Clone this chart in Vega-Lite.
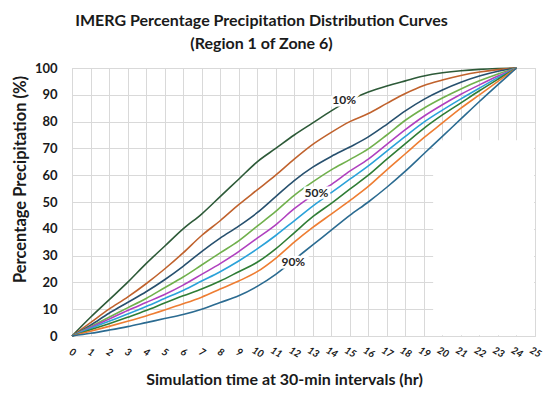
{
  "$schema": "https://vega.github.io/schema/vega-lite/v6.json",
  "autosize": "none",
  "width": 463,
  "height": 268,
  "padding": {"left": 72, "top": 68, "right": 15, "bottom": 61},
  "config": {
    "font": "Lato",
    "view": {"stroke": "#d9d9d9", "strokeWidth": 1},
    "axis": {"gridColor": "#d9d9d9", "gridWidth": 1, "domainColor": "#d9d9d9", "ticks": false, "grid": true, "labelOverlap": false, "labelFlush": false},
    "axisX": {
      "tickCount": 25,
      "titleFontSize": 16, "titleFontWeight": "bold", "titleColor": "#1a1a1a",
      "titleX": 212, "titleY": 35, "titleBaseline": "top", "titleAnchor": "middle", "titleAlign": "center",
      "labelAngle": 30, "labelAlign": "center", "labelBaseline": "middle", "labelPadding": 16,
      "labelFontSize": 10, "labelFontStyle": "italic", "labelFontWeight": "bold", "labelColor": "#1a1a1a"
    },
    "axisY": {
      "tickCount": 10,
      "titleFontSize": 16.5, "titleFontWeight": "bold", "titleColor": "#1a1a1a",
      "titleX": -47, "titleY": 111, "titleBaseline": "alphabetic", "titleAlign": "center", "titleAngle": -90,
      "labelFontSize": 13, "labelFontWeight": "bold", "labelColor": "#1a1a1a", "labelPadding": 15
    }
  },
  "title": {
    "text": ["IMERG Percentage Precipitation Distribution Curves", "(Region 1 of Zone 6)"],
    "fontSize": 16,
    "fontWeight": "bold",
    "color": "#1a1a1a",
    "lineHeight": 23,
    "anchor": "middle",
    "dx": -42,
    "offset": 10
  },
  "datasets": {
    "curves": [
      {"t": 0, "p10": 0, "p20": 0, "p30": 0, "p40": 0, "p50": 0, "p60": 0, "p70": 0, "p80": 0, "p90": 0},
      {"t": 1, "p10": 7, "p20": 5, "p30": 4, "p40": 3.5, "p50": 3.2, "p60": 2.8, "p70": 2.3, "p80": 1.8, "p90": 1},
      {"t": 2, "p10": 13.5, "p20": 10, "p30": 8.5, "p40": 7, "p50": 6.3, "p60": 5.5, "p70": 4.6, "p80": 3.6, "p90": 2.2},
      {"t": 3, "p10": 20, "p20": 14.5, "p30": 12.5, "p40": 10.5, "p50": 9.5, "p60": 8.2, "p70": 7, "p80": 5.5, "p90": 3.5},
      {"t": 4, "p10": 27, "p20": 19.5, "p30": 16.5, "p40": 14, "p50": 12.5, "p60": 11, "p70": 9.5, "p80": 7.5, "p90": 5},
      {"t": 5, "p10": 33.5, "p20": 25, "p30": 21, "p40": 18, "p50": 15.5, "p60": 14, "p70": 12.3, "p80": 9.7, "p90": 6.5},
      {"t": 6, "p10": 40, "p20": 31, "p30": 26, "p40": 22, "p50": 19, "p60": 17, "p70": 15, "p80": 12, "p90": 8},
      {"t": 7, "p10": 45.5, "p20": 37.5, "p30": 31.5, "p40": 26.5, "p50": 23, "p60": 20.5, "p70": 17.5, "p80": 14.5, "p90": 10},
      {"t": 8, "p10": 52, "p20": 43, "p30": 36.5, "p40": 31, "p50": 27, "p60": 24, "p70": 20.5, "p80": 17.5, "p90": 12.5},
      {"t": 9, "p10": 58.5, "p20": 49, "p30": 41, "p40": 35.5, "p50": 31.5, "p60": 28, "p70": 24, "p80": 20.5, "p90": 15},
      {"t": 10, "p10": 65, "p20": 54.5, "p30": 46, "p40": 41, "p50": 36.5, "p60": 32.5, "p70": 27.5, "p80": 24, "p90": 18.5},
      {"t": 11, "p10": 70, "p20": 60, "p30": 52, "p40": 46.5, "p50": 41.5, "p60": 37.5, "p70": 32.5, "p80": 29, "p90": 23},
      {"t": 12, "p10": 75, "p20": 66, "p30": 58, "p40": 52.5, "p50": 47.5, "p60": 43, "p70": 38.5, "p80": 35, "p90": 28.5},
      {"t": 13, "p10": 79.5, "p20": 71.5, "p30": 63, "p40": 57.5, "p50": 52.5, "p60": 48.5, "p70": 44.5, "p80": 40.5, "p90": 34},
      {"t": 14, "p10": 84, "p20": 76, "p30": 67, "p40": 62, "p50": 56.5, "p60": 53.5, "p70": 49.5, "p80": 45.5, "p90": 39.5},
      {"t": 15, "p10": 88, "p20": 80, "p30": 70.5, "p40": 65.8, "p50": 61.5, "p60": 58.5, "p70": 54.8, "p80": 50.5, "p90": 45},
      {"t": 16, "p10": 91, "p20": 83, "p30": 74.3, "p40": 69.8, "p50": 66, "p60": 63.5, "p70": 60, "p80": 55.8, "p90": 50},
      {"t": 17, "p10": 93.3, "p20": 86.8, "p30": 79, "p40": 75, "p50": 71.5, "p60": 69, "p70": 66, "p80": 62, "p90": 55.5},
      {"t": 18, "p10": 95.2, "p20": 90.5, "p30": 84, "p40": 80.5, "p50": 77, "p60": 74.5, "p70": 71.8, "p80": 68, "p90": 61.5},
      {"t": 19, "p10": 97, "p20": 93.5, "p30": 88.3, "p40": 85, "p50": 82, "p60": 79.8, "p70": 77.5, "p80": 74, "p90": 68},
      {"t": 20, "p10": 98.2, "p20": 95.5, "p30": 91.8, "p40": 88.8, "p50": 86.3, "p60": 84.3, "p70": 82.5, "p80": 79.5, "p90": 74.5},
      {"t": 21, "p10": 99, "p20": 97.2, "p30": 94.7, "p40": 92.2, "p50": 90.2, "p60": 88.5, "p70": 87, "p80": 85, "p90": 81},
      {"t": 22, "p10": 99.5, "p20": 98.5, "p30": 97, "p40": 95.2, "p50": 93.7, "p60": 92.5, "p70": 91.5, "p80": 90, "p90": 87.5},
      {"t": 23, "p10": 99.8, "p20": 99.4, "p30": 98.8, "p40": 97.8, "p50": 97, "p60": 96.4, "p70": 95.8, "p80": 95, "p90": 93.8},
      {"t": 24, "p10": 100, "p20": 100, "p30": 100, "p40": 100, "p50": 100, "p60": 100, "p70": 100, "p80": 100, "p90": 100}
    ],
    "labels": [
      {"t": 14.7, "pct": 88, "label": "10%"},
      {"t": 13.2, "pct": 53.5, "label": "50%"},
      {"t": 11.95, "pct": 27.5, "label": "90%"}
    ]
  },
  "layer": [
    {
      "data": {"values": [{}]},
      "mark": {"type": "rect", "color": "white"},
      "encoding": {
        "x": {"datum": 19.5, "type": "quantitative", "scale": {"domain": [0, 25], "nice": false}, "title": "Simulation time at 30-min intervals (hr)"},
        "x2": {"datum": 24.95},
        "y": {"datum": 0.3, "type": "quantitative", "scale": {"domain": [0, 100], "nice": false}, "title": "Percentage Precipitation (%)"},
        "y2": {"datum": 73}
      }
    },
    {
      "data": {"name": "curves"},
      "transform": [
        {"fold": ["p10", "p20", "p30", "p40", "p50", "p60", "p70", "p80", "p90"], "as": ["curve", "pct"]}
      ],
      "mark": {"type": "line", "strokeWidth": 1.6, "interpolate": "monotone"},
      "encoding": {
        "x": {"field": "t", "type": "quantitative", "title": "Simulation time at 30-min intervals (hr)"},
        "y": {"field": "pct", "type": "quantitative", "title": "Percentage Precipitation (%)"},
        "color": {
          "field": "curve", "type": "nominal", "legend": null,
          "scale": {
            "domain": ["p10", "p20", "p30", "p40", "p50", "p60", "p70", "p80", "p90"],
            "range": ["#2d5a38", "#c0622d", "#27506e", "#70b04c", "#b040bf", "#2ba2d9", "#2f7d35", "#ee7d32", "#2b6b91"]
          }
        }
      }
    },
    {
      "data": {"name": "labels"},
      "mark": {"type": "text", "fontSize": 12, "fontWeight": "bold", "color": "white", "stroke": "white", "strokeWidth": 5},
      "encoding": {
        "x": {"field": "t", "type": "quantitative", "title": "Simulation time at 30-min intervals (hr)"},
        "y": {"field": "pct", "type": "quantitative", "title": "Percentage Precipitation (%)"},
        "text": {"field": "label"}
      }
    },
    {
      "data": {"name": "labels"},
      "mark": {"type": "text", "fontSize": 12, "fontWeight": "bold", "color": "#262626"},
      "encoding": {
        "x": {"field": "t", "type": "quantitative", "title": "Simulation time at 30-min intervals (hr)"},
        "y": {"field": "pct", "type": "quantitative", "title": "Percentage Precipitation (%)"},
        "text": {"field": "label"}
      }
    }
  ]
}
